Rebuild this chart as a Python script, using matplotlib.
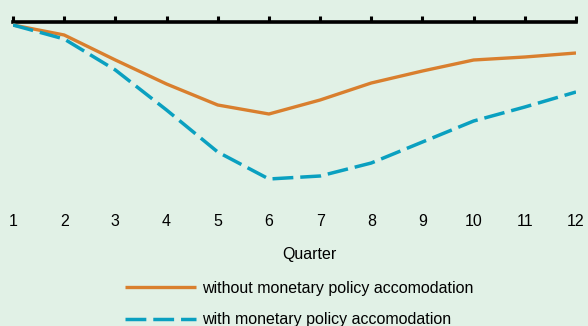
import numpy as np
import matplotlib
matplotlib.use("Agg")
import matplotlib.pyplot as plt

# quarters after the shock and deviation of output
quarters = np.arange(1, 13)
without_accom = [0, -0.10, -0.35, -0.59, -0.80, -0.89, -0.75, -0.58, -0.46, -0.35, -0.32, -0.28]
with_accom = [0, -0.14, -0.45, -0.85, -1.27, -1.54, -1.51, -1.38, -1.17, -0.96, -0.82, -0.67]
labels = ["without monetary policy accomodation", "with monetary policy accomodation"]

BG = "#e1f1e6"; ORANGE = "#d97f2e"; BLUE = "#0aa0c0"
FS = 11.5
plt.rcParams["font.family"] = ["Liberation Sans", "DejaVu Sans"]

W, H = 588, 326
fig = plt.figure(figsize=(W / 100, H / 100), dpi=100, facecolor=BG)
ax = fig.add_axes([13 / W, 1 - 200 / H, (576 - 13) / W, (200 - 22) / H], facecolor=BG)

l1, = ax.plot(quarters, without_accom, color=ORANGE, lw=2.4, solid_capstyle="butt", zorder=3)
l2, = ax.plot(quarters, with_accom, color=BLUE, lw=2.5, dashes=(6, 2), zorder=3)

ax.set_xlim(1, 12); ax.set_ylim(-1.75, 0.03)
for s in ("left", "right", "bottom"):
    ax.spines[s].set_visible(False)
ax.spines["top"].set_linewidth(2.6); ax.spines["top"].set_color("black"); ax.spines["top"].set_capstyle("projecting")
ax.set_yticks([])
ax.set_xticks(quarters)
ax.set_xticklabels([str(q) for q in quarters], fontsize=FS)
ax.tick_params(axis="x", bottom=False, top=True, labelbottom=True, labeltop=False,
               direction="out", length=4, width=2.2, color="black", pad=6)
for line in ax.xaxis.get_ticklines():
    line.set_clip_on(False)

fig.text(309.5 / W, 1 - 255 / H, "Quarter", ha="center", va="center", fontsize=FS)

fig.legend([l1, l2], labels, loc="upper left", bbox_to_anchor=(125 / W, 1 - 281 / H),
           frameon=False, fontsize=FS, handlelength=4.43, handletextpad=0.4,
           labelspacing=1.03, borderpad=0, borderaxespad=0)

fig.savefig("out.png", dpi=100, facecolor=BG)
